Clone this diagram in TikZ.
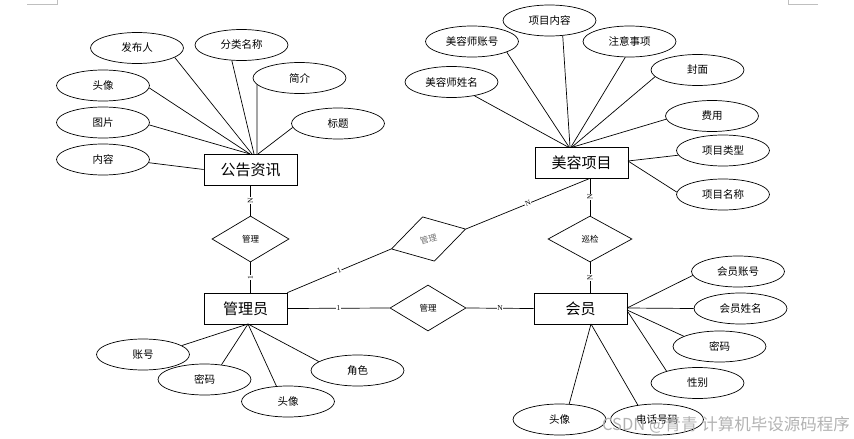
\documentclass[tikz,border=0pt]{standalone}
\usepackage{fontspec}
\setmainfont{Liberation Serif}
\newfontfamily\cjk{Noto Sans CJK SC}
\usetikzlibrary{shapes.geometric}
\tikzset{
  ent/.style={draw, line width=0.7pt, minimum width=93pt, minimum height=31pt, inner sep=0pt, font=\cjk\fontsize{15}{15}\selectfont},
  attr/.style={draw, ellipse, line width=0.7pt, minimum width=93pt, minimum height=31pt, inner sep=0pt, font=\cjk\fontsize{10.5}{10.5}\selectfont},
  rel/.style={draw, diamond, line width=0.7pt, minimum width=77pt, minimum height=46pt, inner sep=0pt, font=\cjk\fontsize{8.5}{8.5}\selectfont},
  conn/.style={line width=0.7pt},
  card/.style={fill=white, inner sep=0.6pt, font=\fontsize{7.5}{7.5}\selectfont},
  corner/.style={draw=black!25, line width=0.6pt},
}
\begin{document}
\begin{tikzpicture}[x=1pt,y=-1pt]
\useasboundingbox (0,0) rectangle (854,439);
% page corner marks
\coordinate (k1) at (27,4); \coordinate (k2) at (57,4); \coordinate (k3) at (57,0);
\coordinate (k4) at (818,4); \coordinate (k5) at (788,4); \coordinate (k6) at (788,0);
\draw[corner] (k1) -- (k2) -- (k3);
\draw[corner] (k4) -- (k5) -- (k6);

% entities
\node[ent] (ggzx) at (250.5,169.5) {公告资讯};
\node[ent] (mrxm) at (581.5,162.5) {美容项目};
\node[ent, minimum width=83pt] (gly) at (245.5,308.5) {管理员};
\node[ent] (hy) at (580.5,308.5) {会员};

% relationships
\node[rel] (r1) at (250.5,239) {管理};
\node[rel, minimum width=84pt] (r2) at (590,239) {巡检};
\node[rel, minimum width=76pt] (r3) at (428,308) {管理};
\node[rel, rotate=15, text=black!55] (r4) at (428.5,239) {管理};

% relationship connectors
\draw[conn] (ggzx.south) -- node[card, rotate=90] {N} (r1.north);
\draw[conn] (r1.south) -- node[card, rotate=90] {1} (r1.south |- gly.north);
\draw[conn] (mrxm.south -| r2.north) -- node[card, rotate=90] {N} (r2.north);
\draw[conn] (r2.south) -- node[card, rotate=90] {N} (r2.south |- hy.north);
\draw[conn] (gly.east) -- node[card] {1} (r3.west);
\draw[conn] (r3.east) -- node[card] {N} (hy.west);
\draw[conn] (gly.north east) -- node[card, sloped] {1} (r4.west);
\draw[conn] (r4.east) -- node[card, sloped] {N} (mrxm.south -| r2.north);

% attributes of 公告资讯
\node[attr] (a1) at (137,48) {发布人};
\node[attr] (a2) at (241.5,45) {分类名称};
\node[attr] (a3) at (299.5,78) {简介};
\node[attr] (a4) at (103,85.5) {头像};
\node[attr] (a5) at (103,122.5) {图片};
\node[attr] (a6) at (338,123.5) {标题};
\node[attr] (a7) at (103,159.5) {内容};
\coordinate (pa1) at (252,154);
\coordinate (pa2) at (254,154);
\coordinate (pa3) at (257,154);
\coordinate (pa4) at (250,154);
\coordinate (pa6) at (258,154);
\draw[conn] (a1.-14) -- (pa1);
\draw[conn] (a2.-122) -- (pa2);
\draw[conn] (a3.189.4) -- (pa3);
\draw[conn] (a4.-3) -- (pa4);
\draw[conn] (a5.-3) -- (pa4);
\draw[conn] (a6.185.7) -- (pa6);
\draw[conn] (a7.-4.3) -- (ggzx.west);

% attributes of 美容项目
\node[attr] (b1) at (451.5,82) {美容师姓名};
\node[attr] (b2) at (472,41.5) {美容师账号};
\node[attr] (b3) at (549.5,20.5) {项目内容};
\node[attr] (b4) at (629.5,41.5) {注意事项};
\node[attr] (b5) at (697.5,70) {封面};
\node[attr] (b6) at (712,116) {费用};
\node[attr] (b7) at (723,150.5) {项目类型};
\node[attr] (b8) at (723,194.5) {项目名称};
\coordinate (pb1) at (568,147);
\coordinate (pb2) at (569,147);
\coordinate (pb3) at (570,147);
\coordinate (pb4) at (571,147);
\coordinate (pb5) at (572,147);
\coordinate (pb6) at (573,147);
\coordinate (pb7) at (628,161);
\draw[conn] (b1.-31) -- (pb1);
\draw[conn] (b2.-17.6) -- (pb2);
\draw[conn] (b3.-49) -- (pb3);
\draw[conn] (b4.-105) -- (pb4);
\draw[conn] (b5.189) -- (pb5);
\draw[conn] (b6.184) -- (pb6);
\draw[conn] (b7.186) -- (pb7);
\draw[conn] (b8.177) -- (pb7);

% attributes of 管理员
\node[attr] (c1) at (143,354.5) {账号};
\node[attr] (c2) at (204.5,379.5) {密码};
\node[attr] (c3) at (288,401.5) {头像};
\node[attr] (c4) at (357.5,370.5) {角色};
\coordinate (pc) at (248,324);
\draw[conn] (c1.13.7) -- (pc);
\draw[conn] (c2.41.5) -- (pc);
\draw[conn] (c3.127.7) -- (pc);
\draw[conn] (c4.167.5) -- (pc);

% attributes of 会员
\node[attr] (d1) at (738,271.5) {会员账号};
\node[attr] (d2) at (740.5,308.5) {会员姓名};
\node[attr] (d3) at (719.5,346.5) {密码};
\node[attr] (d4) at (697.5,383) {性别};
\node[attr] (d5) at (559.5,419.5) {头像};
\node[attr] (d6) at (657,419.5) {电话号码};
\coordinate (pd1) at (627,308);
\coordinate (pd3) at (627,310);
\coordinate (pd4) at (628,312);
\coordinate (pd5) at (591,324);
\draw[conn] (d1.185.6) -- (pd1);
\draw[conn] (d2.180) -- (pd1);
\draw[conn] (d3.164) -- (pd3);
\draw[conn] (d4.159) -- (pd4);
\draw[conn] (d5.58.5) -- (pd5);
\draw[conn] (d6.143) -- (pd5);

% watermark
\node[anchor=base east, inner sep=0pt, text=black!30, font=\cjk\fontsize{16.5}{16.5}\selectfont] (wm) at (850,430) {CSDN @青青 计算机毕设源码程序};
\end{tikzpicture}
\end{document}
